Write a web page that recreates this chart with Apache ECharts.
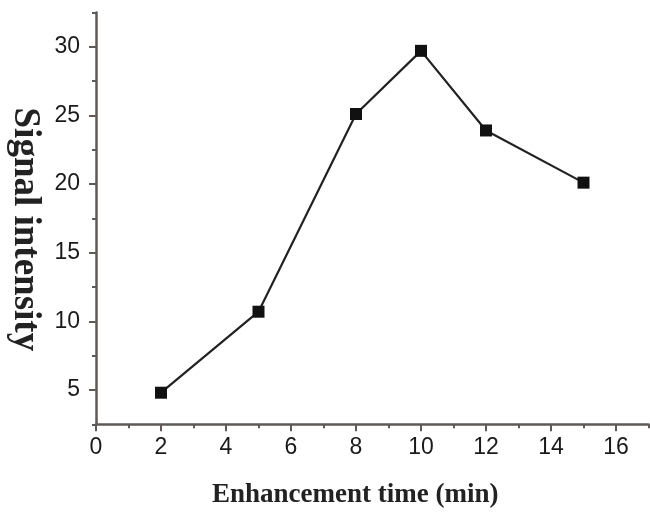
<!DOCTYPE html>
<html>
<head>
<meta charset="utf-8">
<script src="https://cdn.jsdelivr.net/npm/echarts@6/dist/echarts.min.js"></script>
<style>
html,body{margin:0;padding:0;background:#fff;}
#chart{width:650px;height:514px;}
</style>
</head>
<body>
<div id="chart"></div>
<script>
const xValues = [2, 5, 8, 10, 12, 15];
const yValues = [4.8, 10.7, 25.1, 29.7, 23.9, 20.1];
const xMajorTicks = [0, 2, 4, 6, 8, 10, 12, 14, 16];
const xMinorTicks = [1, 3, 5, 7, 9, 11, 13, 15, 17];
const yMajorTicks = [5, 10, 15, 20, 25, 30];
const yMinorTicks = [2.5, 7.5, 12.5, 17.5, 22.5, 27.5, 32.5];
const xTitle = 'Enhancement time (min)';
const yTitle = 'Signal intensity';

const axisColor = '#5f5a57';
const chart = echarts.init(document.getElementById('chart'), null, {renderer: 'canvas'});
const lineData = xValues.map((x, i) => [x, yValues[i]]);

const option = {
  animation: false,
  backgroundColor: '#fff',
  grid: {left: 96, right: 1.5, top: 12.4, bottom: 89.7, containLabel: false, outerBoundsMode: 'none'},
  xAxis: [
    {
      type: 'value', min: 0, max: 17, position: 'bottom',
      splitLine: {show: false},
      axisLine: {show: true, onZero: false, lineStyle: {color: axisColor, width: 2.5}},
      axisTick: {show: true, inside: false, length: 7, customValues: xMajorTicks, lineStyle: {color: axisColor, width: 2}},
      axisLabel: {show: true, customValues: xMajorTicks, margin: 12, fontFamily: 'Liberation Sans', fontSize: 23, color: '#1a1a1a'},
      name: xTitle, nameLocation: 'middle', nameGap: 57,
      nameTextStyle: {fontFamily: 'Liberation Serif', fontSize: 27, fontWeight: 'bold', color: '#222', padding: [0, 34, 0, 0]}
    },
    {
      type: 'value', min: 0, max: 17, position: 'bottom',
      splitLine: {show: false},
      axisLine: {show: false, onZero: false},
      axisTick: {show: true, inside: false, length: 4, customValues: xMinorTicks, lineStyle: {color: axisColor, width: 2}},
      axisLabel: {show: false}
    }
  ],
  yAxis: [
    {
      type: 'value', min: 2.5, max: 32.5, position: 'left',
      splitLine: {show: false},
      axisLine: {show: true, onZero: false, lineStyle: {color: axisColor, width: 2.5}},
      axisTick: {show: true, inside: false, length: 7, customValues: yMajorTicks, lineStyle: {color: axisColor, width: 2}},
      axisLabel: {show: true, customValues: yMajorTicks, margin: 16, fontFamily: 'Liberation Sans', fontSize: 23, color: '#1a1a1a'},
      name: yTitle, nameLocation: 'middle', nameGap: 52, nameRotate: -90,
      nameTextStyle: {fontFamily: 'Liberation Serif', fontSize: 37, fontWeight: 'bold', color: '#222', padding: [0, 0, 0, 22]}
    },
    {
      type: 'value', min: 2.5, max: 32.5, position: 'left',
      splitLine: {show: false},
      axisLine: {show: false, onZero: false},
      axisTick: {show: true, inside: false, length: 4, customValues: yMinorTicks, lineStyle: {color: axisColor, width: 2}},
      axisLabel: {show: false}
    }
  ],
  series: [{
    type: 'line',
    xAxisIndex: 0, yAxisIndex: 0,
    data: lineData,
    symbol: 'rect', symbolSize: 12,
    itemStyle: {color: '#111'},
    lineStyle: {color: '#222', width: 2.2},
    z: 5
  }]
};
chart.setOption(option);
</script>
</body>
</html>
